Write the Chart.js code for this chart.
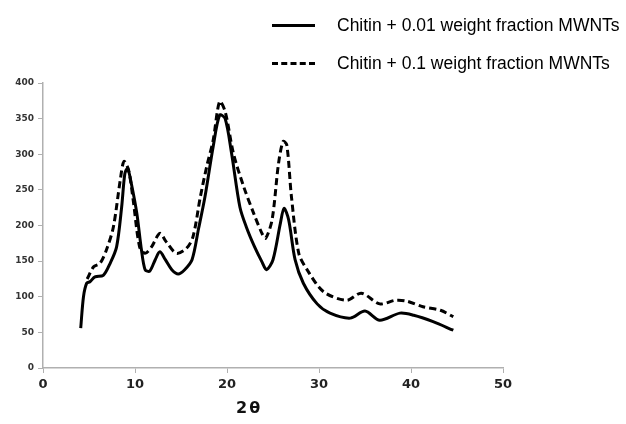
<!DOCTYPE html>
<html>
<head>
<meta charset="utf-8">
<script src="https://cdn.jsdelivr.net/npm/chart.js@4"></script>
<style>
  html, body { margin: 0; padding: 0; background: #fff; }
  #wrap { position: relative; width: 626px; height: 424px; }
  .leg { position: absolute; left: 272px; width: 43px; height: 0; }
  .legText { position: absolute; left: 337px; font: 17.5px "Liberation Sans", Arial, sans-serif; color: #000; white-space: nowrap; }
  #xTitle { position: absolute; left: 236px; top: 398px; font: bold 16px "DejaVu Sans", sans-serif; letter-spacing: 2px; color: #111; }
</style>
</head>
<body>
<div id="wrap">
  <canvas id="xrd" width="626" height="424"></canvas>
  <div class="leg" style="top:24px; border-top:3px solid #000;"></div>
  <div class="legText" style="top:15px;">Chitin + 0.01 weight fraction MWNTs</div>
  <div class="leg" style="top:62px; border-top:3px dashed #000;"></div>
  <div class="legText" style="top:53px;">Chitin + 0.1 weight fraction MWNTs</div>
  <div id="xTitle">2θ</div>
</div>
<script>
// series 1: Chitin + 0.01 weight fraction MWNTs (solid)
const lowX = [4.1, 4.4, 4.75, 5.1, 5.65, 6.55, 7.3, 8.0, 8.55, 8.9, 9.2, 9.6, 10.2, 10.7, 11.1, 11.6, 12.2, 12.7, 13.3, 14.0, 14.7, 15.4, 16.2, 16.9, 17.6, 18.5, 19.2, 19.8, 20.5, 21.4, 22.1, 23.0, 23.8, 24.3, 25.0, 25.8, 26.2, 26.7, 27.4, 28.3, 29.8, 31.2, 33.4, 35.0, 36.6, 38.8, 40.3, 42.4, 44.6];
const lowY = [56, 100, 119, 121, 128, 130, 147, 170, 226, 273, 280, 259, 217, 166, 138, 136, 152, 163, 152, 138, 132, 138, 152, 195, 240, 311, 355, 350, 301, 226, 198, 170, 149, 138, 152, 203, 224, 208, 152, 119, 90, 77, 70, 80, 67, 77, 74, 65, 53];

// series 2: Chitin + 0.1 weight fraction MWNTs (dashed)
const highX = [4.8, 5.5, 6.2, 6.9, 7.65, 8.4, 8.8, 9.3, 9.8, 10.5, 11.1, 11.8, 12.7, 13.4, 14.5, 15.6, 16.3, 17.1, 17.8, 18.5, 19.2, 19.8, 20.7, 21.8, 22.9, 23.8, 24.2, 24.9, 25.6, 26.1, 26.5, 27.0, 27.8, 28.7, 30.5, 33.0, 34.6, 36.6, 38.3, 39.5, 41.3, 43.2, 44.6];
const highY = [125, 142, 147, 166, 198, 264, 290, 278, 236, 170, 161, 170, 189, 177, 161, 168, 184, 240, 283, 320, 374, 360, 301, 255, 217, 189, 182, 208, 287, 318, 313, 241, 161, 138, 107, 95, 105, 90, 95, 94, 86, 81, 72];

const seriesLabels = ["Chitin + 0.01 weight fraction MWNTs", "Chitin + 0.1 weight fraction MWNTs"];

function toPoints(xs, ys) {
  return xs.map((x, i) => ({ x: x, y: ys[i] }));
}

const axisGray = "#b0b0b0";

new Chart(document.getElementById("xrd").getContext("2d"), {
  type: "line",
  data: {
    datasets: [
      {
        label: seriesLabels[0],
        data: toPoints(lowX, lowY),
        borderColor: "#000",
        borderWidth: 3,
        pointRadius: 0,
        tension: 0.3,
        fill: false,
      },
      {
        label: seriesLabels[1],
        data: toPoints(highX, highY),
        borderColor: "#000",
        borderWidth: 3,
        borderDash: [7, 4],
        pointRadius: 0,
        tension: 0.3,
        fill: false,
      },
    ],
  },
  options: {
    responsive: false,
    animation: false,
    layout: { padding: { top: 83, right: 123, left: 0, bottom: 0 } },
    plugins: {
      legend: { display: false },
      tooltip: { enabled: false },
    },
    scales: {
      x: {
        type: "linear",
        min: 0,
        max: 50,
        ticks: {
          stepSize: 10,
          color: "#222",
          font: { family: "'DejaVu Sans', sans-serif", size: 13, weight: "bold" },
          padding: 4,
          maxRotation: 0,
        },
        grid: { drawOnChartArea: false, color: axisGray, tickLength: 5 },
        border: { color: axisGray, width: 1.5 },
        afterFit: (scale) => { scale.height = 56; },
      },
      y: {
        min: 0,
        max: 400,
        ticks: {
          stepSize: 50,
          color: "#333",
          font: { family: "'DejaVu Sans', sans-serif", size: 9, weight: "bold" },
          padding: 4,
        },
        grid: { drawOnChartArea: false, color: axisGray, tickLength: 5 },
        border: { color: axisGray, width: 1.5 },
        afterFit: (scale) => { scale.width = 43; },
      },
    },
  },
});
</script>
</body>
</html>
